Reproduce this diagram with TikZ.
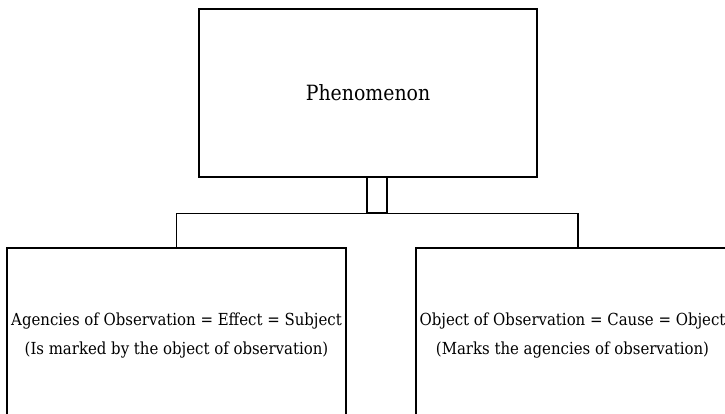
\documentclass[tikz,border=0pt]{standalone}
\usepackage{fontspec}
\setmainfont{DejaVu Serif Condensed}
\begin{document}
\begin{tikzpicture}[x=1pt,y=-1pt,
  box/.style={draw=black,line width=1.3pt,rectangle,inner sep=0pt,align=center},
  conn/.style={draw=black,line width=1.3pt}]
\useasboundingbox (0,0) rectangle (725,414);
\clip (0,0) rectangle (725,414);
\fill[white] (0,0) rectangle (725,414);
\node[box,minimum width=338pt,minimum height=168pt,font=\fontsize{21}{24}\selectfont] (phen) at (368,93) {Phenomenon};
\node[box,minimum width=20pt,minimum height=36pt] (link) at (377,195) {};
\node[box,minimum width=339pt,minimum height=176pt,font=\fontsize{16.6}{29}\selectfont] (left) at (176.5,336) {Agencies of Observation = Effect = Subject\\(Is marked by the object of observation)};
\node[box,minimum width=313pt,minimum height=176pt,font=\fontsize{16.6}{29}\selectfont] (right) at (572.5,336) {Object of Observation = Cause = Object\\(Marks the agencies of observation)};
\coordinate (rj) at (578,248);
\draw[conn] (left.north) |- (link.south west);
\draw[conn] (link.south east) -| (rj);
\end{tikzpicture}
\end{document}
